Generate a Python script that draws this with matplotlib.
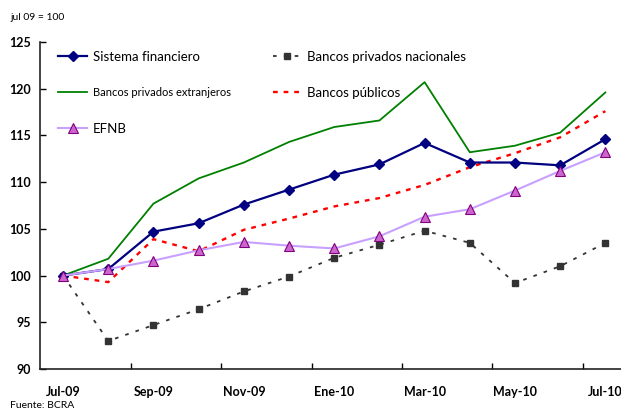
import numpy as np
import matplotlib
matplotlib.use("Agg")
import matplotlib.pyplot as plt

plt.rcParams['font.family'] = ['Lato', 'DejaVu Sans']

# datos, jul 09 = 100
meses = ["Jul-09", "Ago-09", "Sep-09", "Oct-09", "Nov-09", "Dic-09", "Ene-10",
         "Feb-10", "Mar-10", "Abr-10", "May-10", "Jun-10", "Jul-10"]
sistema = [100, 100.7, 104.7, 105.6, 107.6, 109.2, 110.8, 111.9, 114.2, 112.1, 112.1, 111.8, 114.6]
extranjeros = [100, 101.8, 107.7, 110.4, 112.1, 114.3, 115.9, 116.6, 120.7, 113.2, 113.9, 115.3, 119.6]
nacionales = [100, 93.0, 94.7, 96.4, 98.3, 99.9, 101.9, 103.3, 104.8, 103.5, 99.2, 101.0, 103.5]
publicos = [100, 99.3, 103.9, 102.6, 104.9, 106.1, 107.4, 108.3, 109.7, 111.6, 113.1, 114.8, 117.6]
efnb = [100, 100.7, 101.6, 102.7, 103.6, 103.2, 102.9, 104.2, 106.3, 107.1, 109.1, 111.2, 113.2]

x = np.arange(len(meses))

fig = plt.figure(figsize=(6.21, 4.09), dpi=100)
ax = fig.add_axes([0.0652, 0.0978, 0.946, 0.7995])

l_ext, = ax.plot(x, extranjeros, color="#008000", lw=1.3, label="Bancos privados extranjeros")
l_pub, = ax.plot(x, publicos, color="#ff0000", lw=1.7, linestyle=(0, (2, 2.5)), label="Bancos públicos")
l_nac, = ax.plot(x, nacionales, color="#333333", lw=1.3, linestyle=(0, (2, 4)),
                 marker="s", markersize=5, label="Bancos privados nacionales")
l_sf, = ax.plot(x, sistema, color="#000080", lw=1.6, marker="D", markersize=5,
                label="Sistema financiero")
l_efnb, = ax.plot(x, efnb, color="#c8a0ff", lw=1.5, marker="^", markersize=7,
                  markerfacecolor="#cc66cc", markeredgecolor="#800080", markeredgewidth=0.8,
                  label="EFNB")

ax.set_xlim(-0.5, len(meses) - 0.5)
ax.set_ylim(90, 125)
ax.set_yticks(np.arange(90, 126, 5))
ax.set_yticklabels([str(v) for v in range(90, 126, 5)], fontweight="bold", fontsize=9)

# ticks between categories, labels every two months
ax.set_xticks(np.arange(1.5, len(meses) - 1, 2))
ax.set_xticklabels([])
ax.set_xticks(x[::2], minor=True)
ax.set_xticklabels(meses[::2], minor=True, fontweight="bold", fontsize=9)
ax.tick_params(axis="x", which="minor", length=0, pad=12)
ax.tick_params(axis="x", which="major", direction="in", length=4, width=1)
ax.tick_params(axis="y", direction="in", length=4, width=1, pad=7)

for s in ["top", "right"]:
    ax.spines[s].set_visible(False)
for s in ["left", "bottom"]:
    ax.spines[s].set_linewidth(1.2)
    ax.spines[s].set_color("#222222")

leg = ax.legend(handles=[l_sf, l_ext, l_efnb, l_nac, l_pub], ncol=2, loc="upper left",
                bbox_to_anchor=(0.01, 1.01), frameon=False, fontsize=9.5,
                handlelength=2.2, handletextpad=0.4, labelspacing=1.85, columnspacing=3.2)
leg.get_texts()[1].set_fontsize(8)

fig.text(10 / 621, 1 - 17 / 409, "jul 09 = 100", fontsize=7.5, va="center", ha="left")
fig.text(10 / 621, 1 - 405 / 409, "Fuente: BCRA", fontsize=7.5, va="center", ha="left")

fig.savefig("out.png", dpi=100)
